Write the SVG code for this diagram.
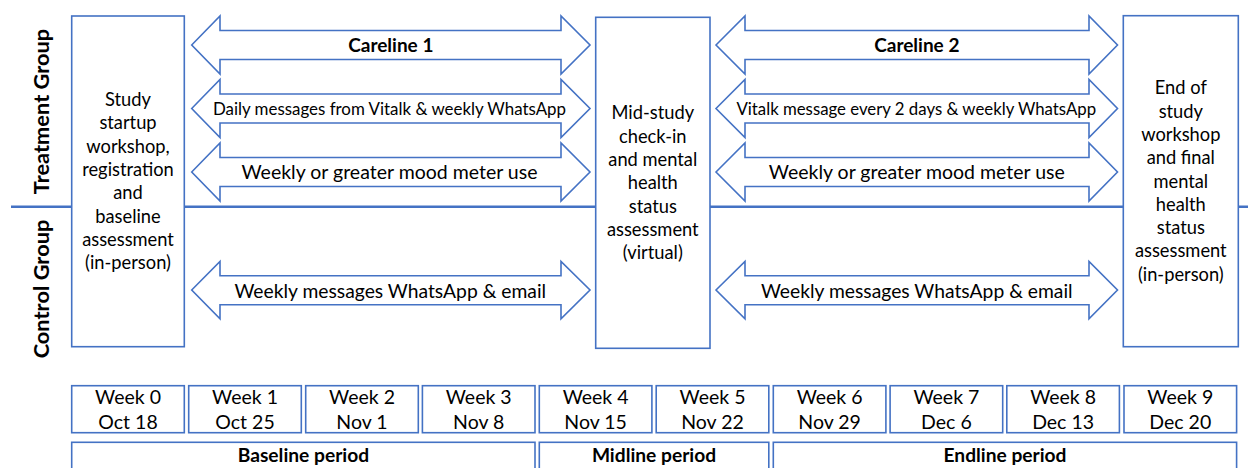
<svg xmlns="http://www.w3.org/2000/svg" width="1248" height="468" viewBox="0 0 1248 468">
<style>
.bx{fill:#fff;stroke:#4472C4;stroke-width:1.6}
.ar{fill:#fff;stroke:#4472C4;stroke-width:1.6;stroke-linejoin:miter}
.sep{stroke:#4472C4;stroke-width:2.6}
text{font-family:Lato,"Liberation Sans",Arial,sans-serif;fill:#000;text-anchor:middle}
.bt{font-size:18.3px}
.wk{font-size:19.5px}
.b{font-weight:bold}
.gl{font-size:21.8px;font-weight:bold}
</style>
<g id="separator">
<line class="sep" x1="11" y1="206.7" x2="1248" y2="206.7"/>
</g>
<g id="group-labels">
<text class="gl" transform="translate(48.5,111.5) rotate(-90)">Treatment Group</text>
<text class="gl" transform="translate(48.5,289) rotate(-90)">Control Group</text>
</g>
<g id="connectors">
<g id="careline1">
<polygon class="ar" points="191.7,45 220,16 220,30.5 561,30.5 561,16 590,45 561,74 561,59.5 220,59.5 220,74"/>
<text class="b" x="390.8" y="51.7" font-size="19">Careline 1</text>
</g>
<g id="daily-msgs">
<polygon class="ar" points="191.7,108.5 220,79.5 220,94 561,94 561,79.5 590,108.5 561,137.5 561,123 220,123 220,137.5"/>
<text x="389.5" y="115" font-size="16.9">Daily messages from Vitalk &amp; weekly WhatsApp</text>
</g>
<g id="mood1">
<polygon class="ar" points="191.7,172 220,143 220,157.5 561,157.5 561,143 590,172 561,201 561,186.5 220,186.5 220,201"/>
<text x="389.5" y="179" font-size="19.5">Weekly or greater mood meter use</text>
</g>
<g id="control1">
<polygon class="ar" points="191.7,290 220,261.5 220,275.7 561,275.7 561,261.5 590,290 561,318.8 561,304.7 220,304.7 220,318.8"/>
<text x="390.3" y="297.7" font-size="19.3">Weekly messages WhatsApp &amp; email</text>
</g>
<g id="careline2">
<polygon class="ar" points="716,45 745,16 745,30.5 1089,30.5 1089,16 1117.5,45 1089,74 1089,59.5 745,59.5 745,74"/>
<text class="b" x="916.8" y="51.7" font-size="19">Careline 2</text>
</g>
<g id="vitalk-msgs">
<polygon class="ar" points="716,108.5 745,79.5 745,94 1089,94 1089,79.5 1117.5,108.5 1089,137.5 1089,123 745,123 745,137.5"/>
<text x="916.3" y="115" font-size="16.8">Vitalk message every 2 days &amp; weekly WhatsApp</text>
</g>
<g id="mood2">
<polygon class="ar" points="716,172 745,143 745,157.5 1089,157.5 1089,143 1117.5,172 1089,201 1089,186.5 745,186.5 745,201"/>
<text x="916.8" y="179" font-size="19.5">Weekly or greater mood meter use</text>
</g>
<g id="control2">
<polygon class="ar" points="716,290 745,261.5 745,275.7 1089,275.7 1089,261.5 1117.5,290 1089,318.8 1089,304.7 745,304.7 745,318.8"/>
<text x="916.8" y="297.7" font-size="19.3">Weekly messages WhatsApp &amp; email</text>
</g>
</g>
<g id="startup-box">
<rect class="bx" x="71.7" y="16" width="112.6" height="330.7"/>
<text class="bt" x="128" y="106">Study</text>
<text class="bt" x="128" y="129.3">startup</text>
<text class="bt" x="128" y="152.6">workshop,</text>
<text class="bt" x="128" y="175.9">registration</text>
<text class="bt" x="128" y="199.2">and</text>
<text class="bt" x="128" y="222.5">baseline</text>
<text class="bt" x="128" y="245.8">assessment</text>
<text class="bt" x="128" y="269.1">(in-person)</text>
</g>
<g id="midstudy-box">
<rect class="bx" x="595.7" y="17.3" width="114.3" height="331"/>
<text class="bt" x="652.8" y="119.3">Mid-study</text>
<text class="bt" x="652.8" y="142.6">check-in</text>
<text class="bt" x="652.8" y="165.9">and mental</text>
<text class="bt" x="652.8" y="189.2">health</text>
<text class="bt" x="652.8" y="212.5">status</text>
<text class="bt" x="652.8" y="235.8">assessment</text>
<text class="bt" x="652.8" y="259.1">(virtual)</text>
</g>
<g id="end-box">
<rect class="bx" x="1123.3" y="15.7" width="115" height="331"/>
<text class="bt" x="1180.8" y="94.3">End of</text>
<text class="bt" x="1180.8" y="117.6">study</text>
<text class="bt" x="1180.8" y="140.9">workshop</text>
<text class="bt" x="1180.8" y="164.2">and final</text>
<text class="bt" x="1180.8" y="187.5">mental</text>
<text class="bt" x="1180.8" y="210.8">health</text>
<text class="bt" x="1180.8" y="234.1">status</text>
<text class="bt" x="1180.8" y="257.4">assessment</text>
<text class="bt" x="1180.8" y="280.7">(in-person)</text>
</g>
<g id="week0"><rect class="bx" x="71.7" y="385.7" width="112.6" height="47"/><text class="wk" x="128" y="404">Week 0</text><text class="wk" x="128" y="429.3">Oct 18</text></g>
<g id="week1"><rect class="bx" x="188.7" y="385.7" width="112.6" height="47"/><text class="wk" x="245" y="404">Week 1</text><text class="wk" x="245" y="429.3">Oct 25</text></g>
<g id="week2"><rect class="bx" x="305.7" y="385.7" width="112.6" height="47"/><text class="wk" x="362" y="404">Week 2</text><text class="wk" x="362" y="429.3">Nov 1</text></g>
<g id="week3"><rect class="bx" x="422.4" y="385.7" width="112.6" height="47"/><text class="wk" x="478.7" y="404">Week 3</text><text class="wk" x="478.7" y="429.3">Nov 8</text></g>
<g id="week4"><rect class="bx" x="539.3" y="385.7" width="112.6" height="47"/><text class="wk" x="595.6" y="404">Week 4</text><text class="wk" x="595.6" y="429.3">Nov 15</text></g>
<g id="week5"><rect class="bx" x="656.2" y="385.7" width="112.6" height="47"/><text class="wk" x="712.5" y="404">Week 5</text><text class="wk" x="712.5" y="429.3">Nov 22</text></g>
<g id="week6"><rect class="bx" x="773.3" y="385.7" width="112.6" height="47"/><text class="wk" x="829.6" y="404">Week 6</text><text class="wk" x="829.6" y="429.3">Nov 29</text></g>
<g id="week7"><rect class="bx" x="890.1" y="385.7" width="112.6" height="47"/><text class="wk" x="946.4" y="404">Week 7</text><text class="wk" x="946.4" y="429.3">Dec 6</text></g>
<g id="week8"><rect class="bx" x="1006.8" y="385.7" width="112.6" height="47"/><text class="wk" x="1063.1" y="404">Week 8</text><text class="wk" x="1063.1" y="429.3">Dec 13</text></g>
<g id="week9"><rect class="bx" x="1124" y="385.7" width="112.6" height="47"/><text class="wk" x="1180.3" y="404">Week 9</text><text class="wk" x="1180.3" y="429.3">Dec 20</text></g>
<g id="baseline-period"><rect class="bx" x="71.7" y="442.3" width="463.3" height="40"/><text class="b" x="303.4" y="461.7" font-size="19.2">Baseline period</text></g>
<g id="midline-period"><rect class="bx" x="539.3" y="442.3" width="229.5" height="40"/><text class="b" x="654" y="461.7" font-size="19.2">Midline period</text></g>
<g id="endline-period"><rect class="bx" x="773.3" y="442.3" width="463.3" height="40"/><text class="b" x="1005" y="461.7" font-size="19.2">Endline period</text></g>
</svg>
